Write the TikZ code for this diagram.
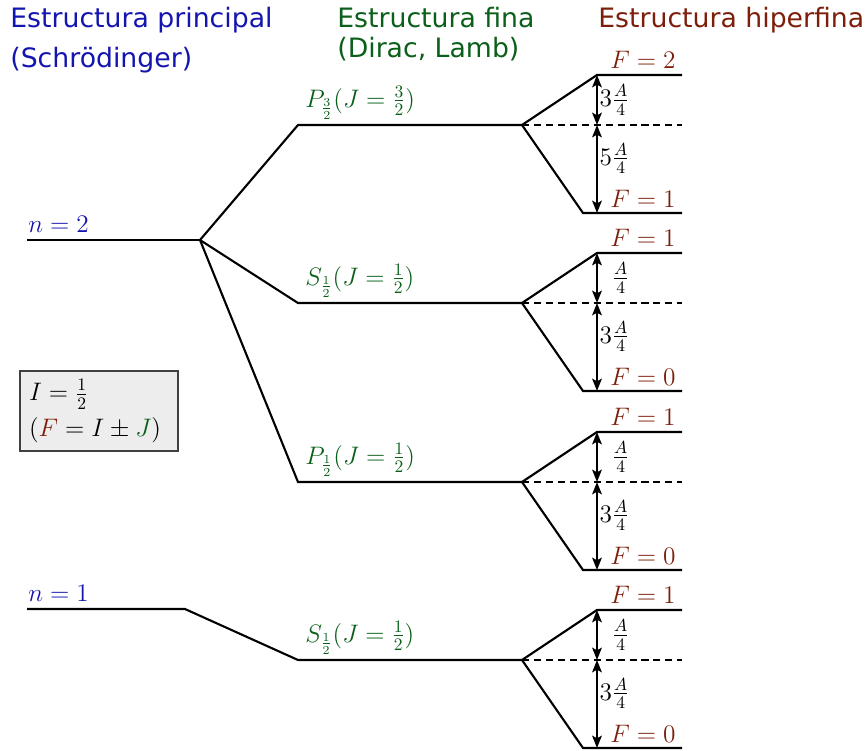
\documentclass[tikz,border=0pt]{standalone}
\usepackage{fontspec}
\setsansfont{DejaVu Sans}
\usepackage{amsmath}
\usetikzlibrary{positioning, arrows, arrows.meta}
\definecolor{princ}{RGB}{20,20,175}
\definecolor{fina}{RGB}{10,95,25}
\definecolor{hiper}{RGB}{125,30,10}
\tikzstyle{level} = [line width=1.2pt]
\tikzstyle{split} = [line width=1.2pt, dash pattern=on 4pt off 2.8pt]
\tikzstyle{arrow} = [line width=1.1pt,{Stealth[length=7pt,width=5.5pt,inset=1.5pt]}-{Stealth[length=7pt,width=5.5pt,inset=1.5pt]}]
\tikzstyle{header} = [font=\sffamily\fontsize{15.2}{18}\selectfont, anchor=base west, inner sep=0pt]
\tikzstyle{lab} = [anchor=base west, inner sep=0pt]
\tikzstyle{flab} = [anchor=base east, inner sep=0pt, text=hiper]
\tikzstyle{gap} = [anchor=west, inner sep=1pt]
\tikzstyle{spinbox} = [draw=black!75, fill=black!7, line width=0.6pt, align=left, text width=2.8cm, inner xsep=0.18cm, minimum height=1.6cm]

\begin{document}
\begin{tikzpicture}[x=0.02cm, y=-0.02cm, font=\fontsize{14}{17}\selectfont]
        \useasboundingbox (0,0) rectangle (867,751);

        % titles
        \node (princ) [header, text=princ] at (10,27) {Estructura principal};
        \node (princb) [header, text=princ] at (10,67) {(Schrödinger)};
        \node (fina) [header, text=fina] at (337,27) {Estructura fina};
        \node (finab) [header, text=fina] at (337,57) {(Dirac, Lamb)};
        \node (hiper) [header, text=hiper] at (598,27) {Estructura hiperfina};

        % Schroedinger levels
        \coordinate (n2l) at (27,240);
        \coordinate (n2r) at (200,240);
        \coordinate (n1l) at (27,609);
        \coordinate (n1r) at (185,609);
        \node (n2) [lab, text=princ] at (28,232) {$n=2$};
        \node (n1) [lab, text=princ] at (28,601) {$n=1$};

        % fine levels
        \coordinate (p32l) at (298,125);
        \coordinate (p32r) at (522,125);
        \coordinate (s12l) at (298,303);
        \coordinate (s12r) at (522,303);
        \coordinate (p12l) at (298,482);
        \coordinate (p12r) at (522,482);
        \coordinate (s1l) at (298,660);
        \coordinate (s1r) at (522,660);
        \node (p32) [lab, text=fina] at (305,107) {$P_{\frac{3}{2}}(J=\frac{3}{2})$};
        \node (s12) [lab, text=fina] at (305,285) {$S_{\frac{1}{2}}(J=\frac{1}{2})$};
        \node (p12) [lab, text=fina] at (305,464) {$P_{\frac{1}{2}}(J=\frac{1}{2})$};
        \node (s1) [lab, text=fina] at (305,642) {$S_{\frac{1}{2}}(J=\frac{1}{2})$};

        \draw [level] (n2l) -- (n2r);
        \draw [level] (n2r) -- (p32l) -- (p32r);
        \draw [level] (n2r) -- (s12l) -- (s12r);
        \draw [level] (n2r) -- (p12l) -- (p12r);
        \draw [level] (n1l) -- (n1r) -- (s1l) -- (s1r);

        % hyperfine P3/2
        \coordinate (a2l) at (597,75);
        \coordinate (a2r) at (682,75);
        \coordinate (a1l) at (583,213);
        \coordinate (a1r) at (682,213);
        \coordinate (am) at (597,125);
        \coordinate (ad) at (682,125);
        \draw [level] (p32r) -- (a2l) -- (a2r);
        \draw [level] (p32r) -- (a1l) -- (a1r);
        \draw [split] (p32r) -- (ad);
        \draw [arrow] (a2l) -- node[gap]{$3\frac{A}{4}$} (am);
        \draw [arrow] (am) -- node[gap, pos=0.38]{$5\frac{A}{4}$} (a2l |- a1l);
        \node (fa2) [flab] at (676,68) {$F=2$};
        \node (fa1) [flab] at (676,207) {$F=1$};

        % hyperfine S1/2 (n=2)
        \coordinate (b1l) at (597,253);
        \coordinate (b1r) at (682,253);
        \coordinate (b0l) at (583,391);
        \coordinate (b0r) at (682,391);
        \coordinate (bm) at (597,303);
        \coordinate (bd) at (682,303);
        \draw [level] (s12r) -- (b1l) -- (b1r);
        \draw [level] (s12r) -- (b0l) -- (b0r);
        \draw [split] (s12r) -- (bd);
        \draw [arrow] (b1l) -- node[gap]{$\phantom{3}\frac{A}{4}$} (bm);
        \draw [arrow] (bm) -- node[gap, pos=0.38]{$3\frac{A}{4}$} (b1l |- b0l);
        \node (fb1) [flab] at (676,246) {$F=1$};
        \node (fb0) [flab] at (676,385) {$F=0$};

        % hyperfine P1/2
        \coordinate (c1l) at (597,432);
        \coordinate (c1r) at (682,432);
        \coordinate (c0l) at (583,570);
        \coordinate (c0r) at (682,570);
        \coordinate (cm) at (597,482);
        \coordinate (cd) at (682,482);
        \draw [level] (p12r) -- (c1l) -- (c1r);
        \draw [level] (p12r) -- (c0l) -- (c0r);
        \draw [split] (p12r) -- (cd);
        \draw [arrow] (c1l) -- node[gap]{$\phantom{3}\frac{A}{4}$} (cm);
        \draw [arrow] (cm) -- node[gap, pos=0.38]{$3\frac{A}{4}$} (c1l |- c0l);
        \node (fc1) [flab] at (676,425) {$F=1$};
        \node (fc0) [flab] at (676,564) {$F=0$};

        % hyperfine S1/2 (n=1)
        \coordinate (d1l) at (597,610);
        \coordinate (d1r) at (682,610);
        \coordinate (d0l) at (583,748);
        \coordinate (d0r) at (682,748);
        \coordinate (dm) at (597,660);
        \coordinate (dd) at (682,660);
        \draw [level] (s1r) -- (d1l) -- (d1r);
        \draw [level] (s1r) -- (d0l) -- (d0r);
        \draw [split] (s1r) -- (dd);
        \draw [arrow] (d1l) -- node[gap]{$\phantom{3}\frac{A}{4}$} (dm);
        \draw [arrow] (dm) -- node[gap, pos=0.38]{$3\frac{A}{4}$} (d1l |- d0l);
        \node (fd1) [flab] at (676,603) {$F=1$};
        \node (fd0) [flab] at (676,742) {$F=0$};

        % nuclear spin
        \node (spin) [spinbox] at (99,411) {$I=\frac{1}{2}$\\[3pt] $(\textcolor{hiper}{F}=I\pm\textcolor{fina}{J})$};

\end{tikzpicture}
\end{document}
